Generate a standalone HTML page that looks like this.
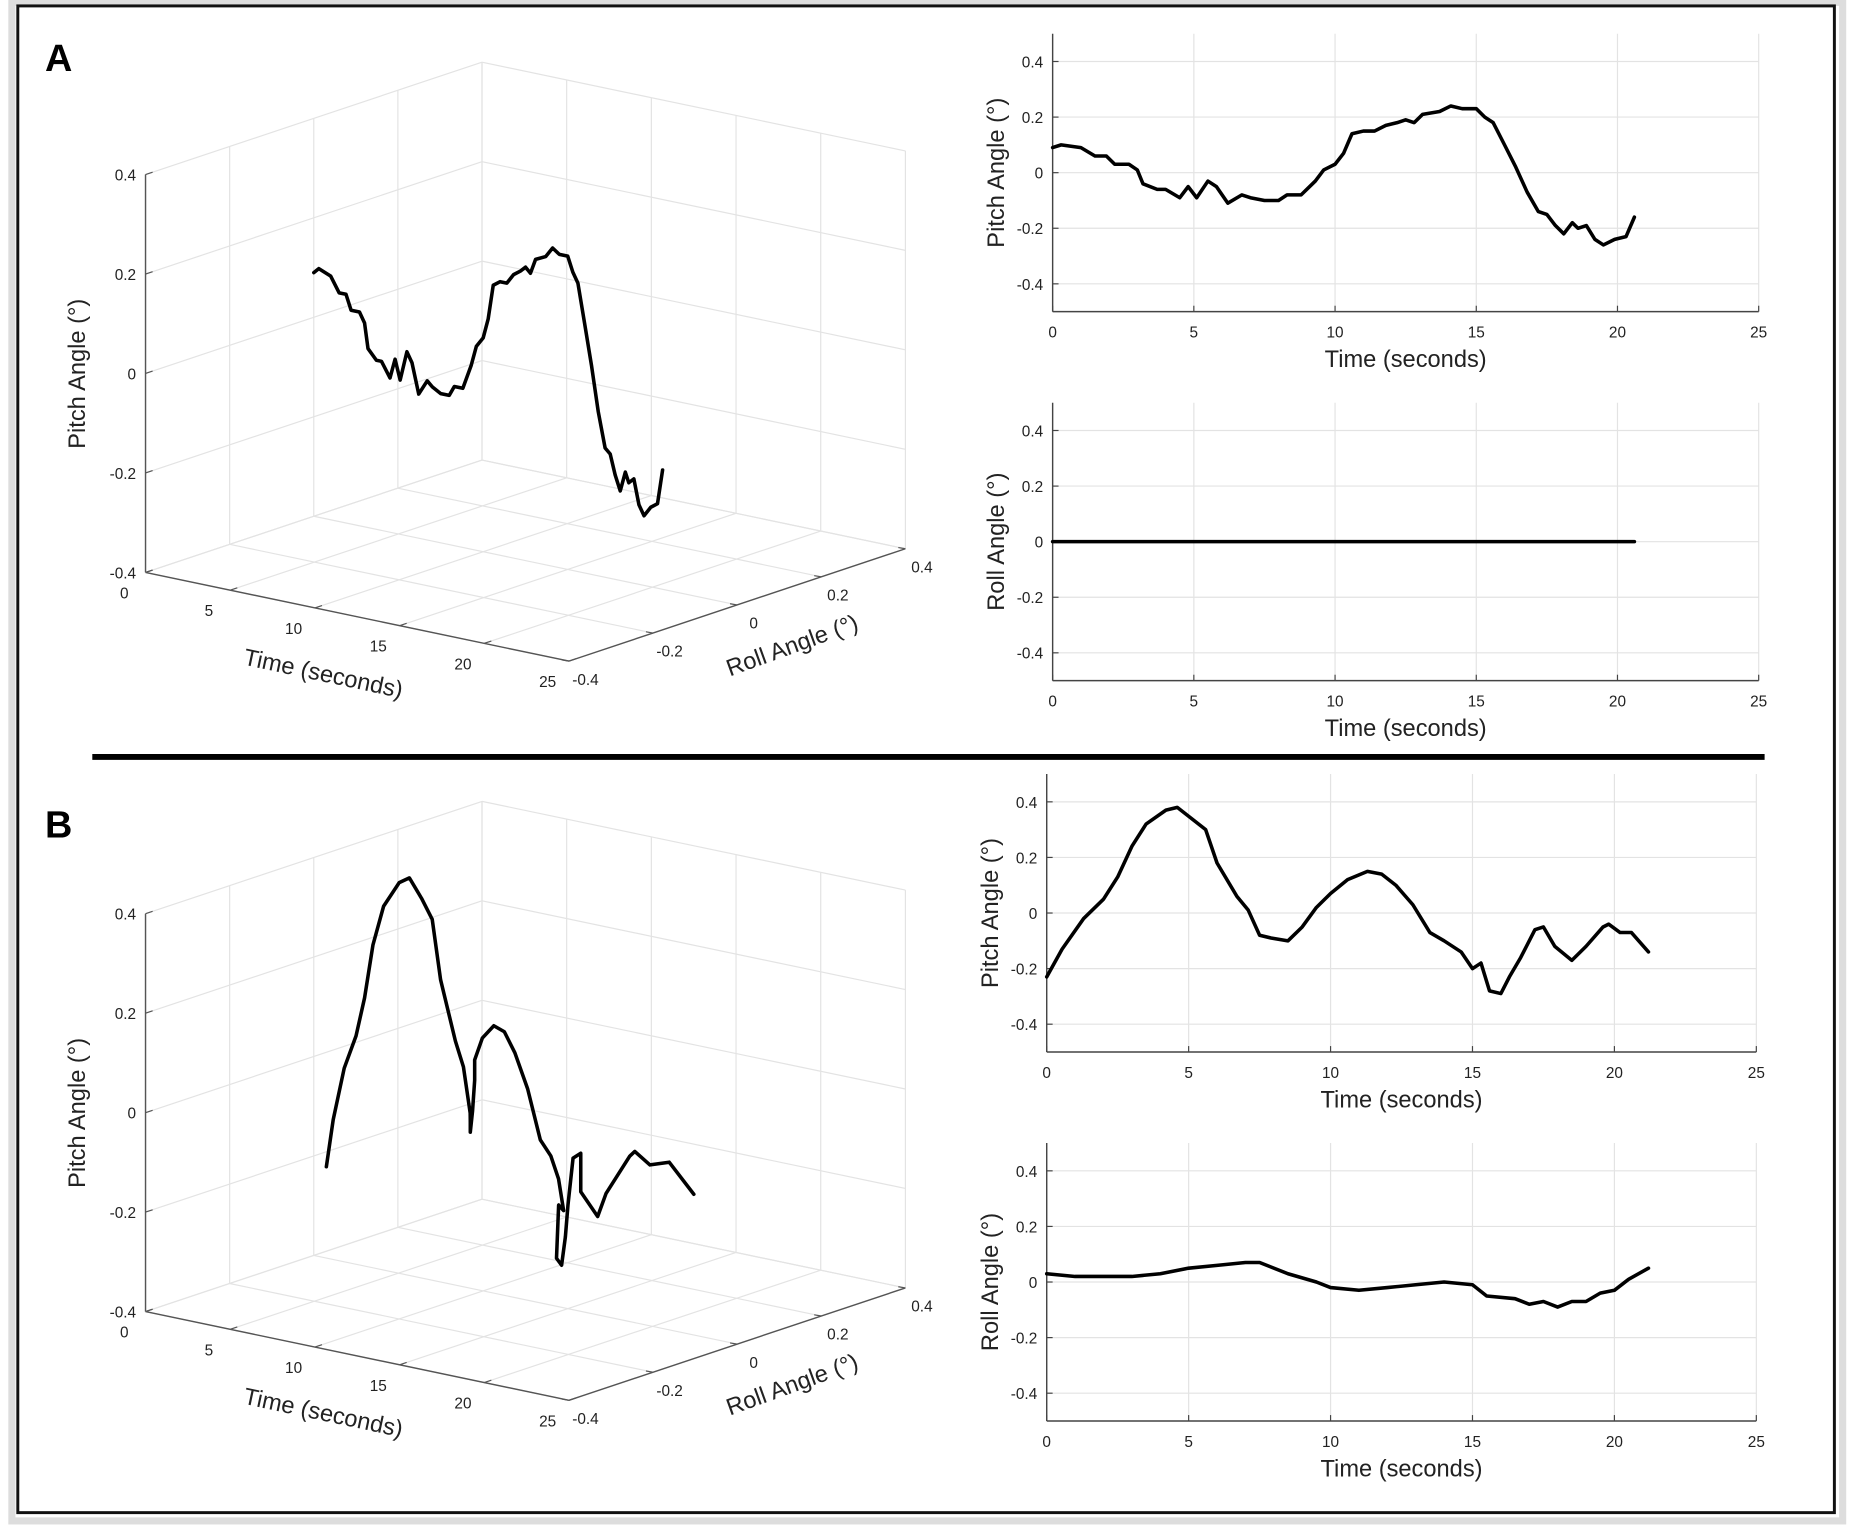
<!DOCTYPE html>
<html><head><meta charset="utf-8"><style>
html,body{margin:0;padding:0;background:#fff;}
svg{display:block;font-family:"Liberation Sans",Arial,sans-serif;}
</style></head><body>
<svg id="fig" width="1851" height="1526" viewBox="0 0 1565 1290.3" xmlns="http://www.w3.org/2000/svg">
<rect x="0" y="0" width="1565" height="1291" fill="#fff"/>
<rect x="10" y="2" width="1548" height="1284" fill="none" stroke="#ddd" stroke-width="6"/>
<rect x="15" y="5" width="1536" height="1274" fill="none" stroke="#111" stroke-width="2.5"/>
<text x="38" y="60" font-size="32" font-weight="bold">A</text>
<text x="38" y="708" font-size="32" font-weight="bold">B</text>
<line x1="78" y1="640" x2="1492" y2="640" stroke="#000" stroke-width="5"/>
<g id="layer"></g>
</svg>
<script>
// ---- data ----
const aTime = [0,0.3,1,1.5,1.9,2.2,2.7,3,3.2,3.7,4,4.5,4.8,5.1,5.5,5.8,6.2,6.7,7,7.5,8,8.3,8.8,9.3,9.6,10,10.3,10.6,11,11.4,11.8,12.2,12.5,12.8,13.1,13.7,14.1,14.5,15,15.3,15.6,16,16.4,16.8,17.2,17.5,17.8,18.1,18.4,18.6,18.9,19.2,19.5,19.9,20.3,20.6];
const aPitch = [0.09,0.10,0.09,0.06,0.06,0.03,0.03,0.01,-0.04,-0.06,-0.06,-0.09,-0.05,-0.09,-0.03,-0.05,-0.11,-0.08,-0.09,-0.10,-0.10,-0.08,-0.08,-0.03,0.01,0.03,0.07,0.14,0.15,0.15,0.17,0.18,0.19,0.18,0.21,0.22,0.24,0.23,0.23,0.20,0.18,0.10,0.02,-0.07,-0.14,-0.15,-0.19,-0.22,-0.18,-0.20,-0.19,-0.24,-0.26,-0.24,-0.23,-0.16];
const aRoll = [0,0];
const aRollTime = [0,20.6];
const bTime = [0,0.54,1.3,2,2.5,3,3.5,4.2,4.6,5.1,5.6,6,6.7,7.1,7.5,7.9,8.5,9,9.5,10,10.6,11.3,11.8,12.3,12.9,13.5,14,14.6,15,15.3,15.6,16,16.3,16.7,17.2,17.5,17.9,18.5,19,19.6,19.8,20.2,20.6,21.2];
const bPitch = [-0.23,-0.13,-0.02,0.05,0.13,0.24,0.32,0.37,0.38,0.34,0.30,0.18,0.06,0.01,-0.08,-0.09,-0.10,-0.05,0.02,0.07,0.12,0.15,0.14,0.10,0.03,-0.07,-0.10,-0.14,-0.20,-0.18,-0.28,-0.29,-0.23,-0.16,-0.06,-0.05,-0.12,-0.17,-0.12,-0.05,-0.04,-0.07,-0.07,-0.14];
const bRollTime = [0,1,2,3,4,5,6,7,7.5,8.5,9.5,10,11,12,13,14,15,15.5,16.5,17,17.5,18,18.5,19,19.5,20,20.5,21.2];
const bRoll = [0.03,0.02,0.02,0.02,0.03,0.05,0.06,0.07,0.07,0.03,0,-0.02,-0.03,-0.02,-0.01,0,-0.01,-0.05,-0.06,-0.08,-0.07,-0.09,-0.07,-0.07,-0.04,-0.03,0.01,0.05];
const timeTicks = [0,5,10,15,20,25];
const angleTicks = [0.4,0.2,0,-0.2,-0.4];
const angleTickLabels = ["0.4","0.2","0","-0.2","-0.4"];

const NS = "http://www.w3.org/2000/svg";
const layer = document.getElementById('layer');
function mk(tag, attrs, parent){const e=document.createElementNS(NS,tag);for(const k in attrs)e.setAttribute(k,attrs[k]);(parent||layer).appendChild(e);return e;}
function txt(s,x,y,size,anchor,parent,extra){const e=mk('text',Object.assign({x:x,y:y,'font-size':size,'text-anchor':anchor||'middle',fill:'#222'},extra||{}),parent);e.textContent=s;return e;}

// ---- 2D plots ----
function plot2d(name, x0, x1, y0, ylabel, ts, vs){
  const g = mk('g',{});
  
  
  const sx = t => x0 + t/25*(x1-x0);
  const sy = v => y0 - v*235;
  const top = sy(0.5), bot = sy(-0.5);
  timeTicks.forEach(t=>{ mk('line',{x1:sx(t),y1:top,x2:sx(t),y2:bot,stroke:'#e3e3e3','stroke-width':1},g);
    mk('line',{x1:sx(t),y1:bot,x2:sx(t),y2:bot-5,stroke:'#444','stroke-width':1},g);
    const l=txt(String(t),sx(t),bot+22,13,'middle',g);
    
    
  });
  angleTicks.forEach((v,i)=>{ mk('line',{x1:x0,y1:sy(v),x2:x1,y2:sy(v),stroke:'#e3e3e3','stroke-width':1},g);
    mk('line',{x1:x0,y1:sy(v),x2:x0+5,y2:sy(v),stroke:'#444','stroke-width':1},g);
    const l=txt(angleTickLabels[i],x0-8,sy(v)+5,13,'end',g);
    
    
  });
  mk('line',{x1:x0,y1:top,x2:x0,y2:bot,stroke:'#444','stroke-width':1.2},g);
  mk('line',{x1:x0,y1:bot,x2:x1,y2:bot,stroke:'#444','stroke-width':1.2},g);
  const xl=txt('Time (seconds)',(x0+x1)/2,bot+47,20,'middle',g);
  
  
  const yl=txt(ylabel,0,0,20,'middle',g,{transform:`translate(${x0-41},${y0}) rotate(-90)`});
  
  
  const d = ts.map((t,i)=>(i?'L':'M')+sx(t).toFixed(1)+','+sy(vs[i]).toFixed(1)).join(' ');
  const p=mk('path',{d:d,fill:'none',stroke:'#000','stroke-width':3,'stroke-linejoin':'round','stroke-linecap':'round'},g);
  
  
}
plot2d('a-pitch-chart',890,1487,146,'Pitch Angle (°)',aTime,aPitch);
plot2d('a-roll-chart',890,1487,458,'Roll Angle (°)',aRollTime,aRoll);
plot2d('b-pitch-chart',885,1485,772,'Pitch Angle (°)',bTime,bPitch);
plot2d('b-roll-chart',885,1485,1084,'Roll Angle (°)',bRollTime,bRoll);

// ---- 3D plots ----
function plot3d(name, oy, ts, pitch, roll){
  const g = mk('g',{});
  
  
  const ox=123;
  const P=(t,r,z)=>[ox + t/25*358 + (r+0.4)/0.8*284.5, oy + t/25*75 - (r+0.4)/0.8*95 - (z+0.4)*420.5];
  const L=(a,b,st,w)=>mk('line',{x1:a[0],y1:a[1],x2:b[0],y2:b[1],stroke:st,'stroke-width':w},g);
  const gc='#e3e3e3';
  // wall t=0
  angleTicks.forEach(r=>L(P(0,r,-0.4),P(0,r,0.4),gc,1));
  angleTicks.forEach(z=>L(P(0,-0.4,z),P(0,0.4,z),gc,1));
  // wall roll=0.4
  timeTicks.forEach(t=>L(P(t,0.4,-0.4),P(t,0.4,0.4),gc,1));
  angleTicks.forEach(z=>L(P(0,0.4,z),P(25,0.4,z),gc,1));
  // floor
  timeTicks.forEach(t=>L(P(t,-0.4,-0.4),P(t,0.4,-0.4),gc,1));
  angleTicks.forEach(r=>L(P(0,r,-0.4),P(25,r,-0.4),gc,1));
  // axes
  L(P(0,-0.4,-0.4),P(0,-0.4,0.4),'#555',1.2);
  L(P(0,-0.4,-0.4),P(25,-0.4,-0.4),'#555',1.2);
  L(P(25,-0.4,-0.4),P(25,0.4,-0.4),'#555',1.2);
  angleTicks.forEach((z,i)=>{const p=P(0,-0.4,z);L(p,[p[0]+6,p[1]-2],'#555',1);
    const l=txt(angleTickLabels[i],p[0]-8,p[1]+5,13,'end',g);
    
    });
  timeTicks.forEach(t=>{const p=P(t,-0.4,-0.4);L(p,[p[0]+6,p[1]-2],'#555',1);
    const l=txt(String(t),p[0]-18,p[1]+22,13,'middle',g);
    
    });
  angleTicks.forEach((r,i)=>{const p=P(25,r,-0.4);L(p,[p[0]-6,p[1]-1],'#555',1);
    const l=txt(angleTickLabels[i],p[0]+14,p[1]+20,13,'middle',g);
    
    });
  const t1=txt('Time (seconds)',0,0,20,'middle',g,{transform:`translate(272,${oy+92}) rotate(12)`});
  
  
  const t2=txt('Roll Angle (°)',0,0,20,'middle',g,{transform:`translate(672,${oy+68}) rotate(-20)`});
  
  
  const t3=txt('Pitch Angle (°)',0,0,20,'middle',g,{transform:`translate(72,${oy-168}) rotate(-90)`});
  
  
  const d=ts.map((t,i)=>{const p=P(t,roll(i,t),pitch[i]);return (i?'L':'M')+p[0].toFixed(1)+','+p[1].toFixed(1);}).join(' ');
  const pth=mk('path',{d:d,fill:'none',stroke:'#000','stroke-width':3,'stroke-linejoin':'round','stroke-linecap':'round'},g);
  
  
}
function interp(xs,ys,t){if(t<=xs[0])return ys[0];for(let i=1;i<xs.length;i++){if(t<=xs[i]){const f=(t-xs[i-1])/(xs[i]-xs[i-1]);return ys[i-1]+f*(ys[i]-ys[i-1]);}}return ys[ys.length-1];}
plot3d('a-3d-chart',484,aTime,aPitch,(i,t)=>interp(aRollTime,aRoll,t));
plot3d('b-3d-chart',1109,bTime,bPitch,(i,t)=>interp(bRollTime,bRoll,t));
</script>
</body></html>
